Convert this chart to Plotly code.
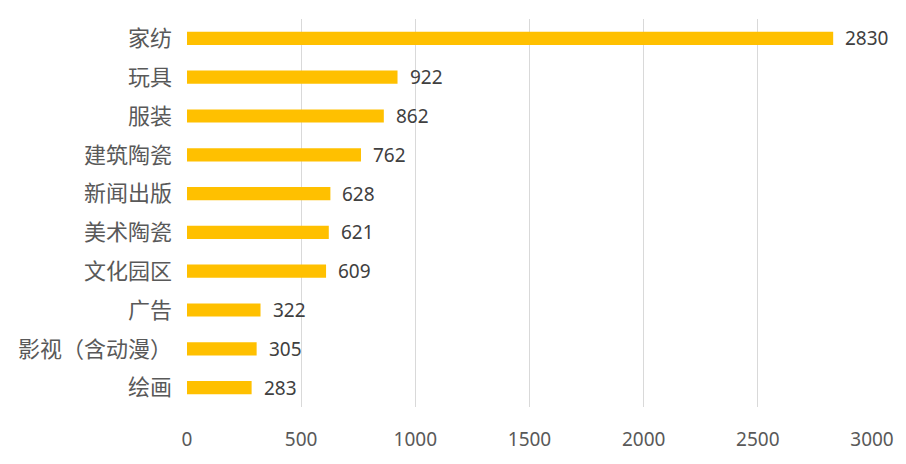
import plotly.graph_objects as go

categories = ["家纺", "玩具", "服装", "建筑陶瓷", "新闻出版", "美术陶瓷", "文化园区", "广告", "影视（含动漫）", "绘画"]
values = [2830, 922, 862, 762, 628, 621, 609, 322, 305, 283]
x_ticks = [0, 500, 1000, 1500, 2000, 2500, 3000]

fig = go.Figure()
fig.add_trace(go.Bar(
    x=values, y=categories, orientation="h",
    marker=dict(color="#FFC000", line=dict(width=0)),
    width=0.34,
    hoverinfo="skip",
))

annotations = [
    dict(x=v, y=c, text=str(v), xref="x", yref="y", xanchor="left", yanchor="middle",
         xshift=10, showarrow=False,
         font=dict(family="Noto Sans, Noto Sans CJK SC", size=19, color="#404040"))
    for c, v in zip(categories, values)
]

fig.update_layout(
    width=906, height=464,
    margin=dict(l=187, r=28, t=19, b=57),
    paper_bgcolor="white", plot_bgcolor="white",
    showlegend=False,
    annotations=annotations,
    xaxis=dict(
        range=[0, 3000], tickvals=x_ticks, ticktext=[str(t) for t in x_ticks],
        showgrid=True, gridcolor="#D9D9D9", gridwidth=1, zeroline=False,
        showline=False, ticks="", ticklabelstandoff=19,
        tickfont=dict(family="Noto Sans, Noto Sans CJK SC", size=19, color="#595959"),
        fixedrange=True,
    ),
    yaxis=dict(
        autorange="reversed", showgrid=False, zeroline=False, showline=False,
        ticks="", ticklabelstandoff=14,
        tickfont=dict(family="Noto Sans CJK SC", size=22, color="#595959"),
        fixedrange=True,
    ),
)

fig.write_html("out.html", config={"displayModeBar": False},
               post_script="document.body.style.margin='0';")
